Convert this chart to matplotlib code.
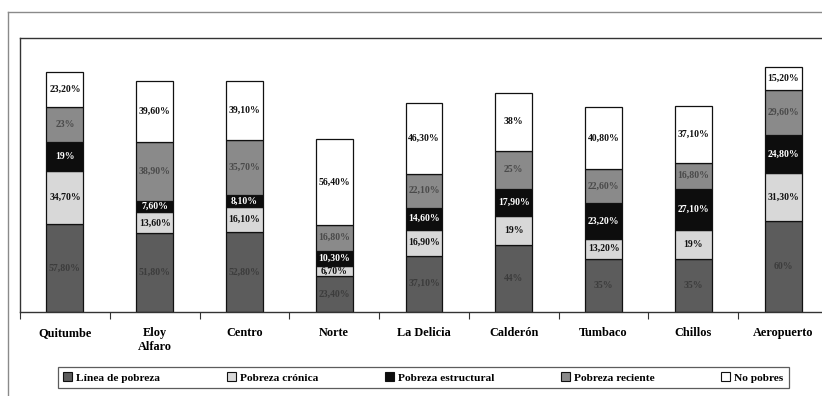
import matplotlib
matplotlib.use("Agg")
import matplotlib.pyplot as plt
import numpy as np
from matplotlib.patches import Patch
from matplotlib.lines import Line2D

# Data: poverty categories (%) by zone
categories = ["Quitumbe", "Eloy\nAlfaro", "Centro", "Norte", "La Delicia",
              "Calderón", "Tumbaco", "Chillos", "Aeropuerto"]
linea_pobreza = [57.8, 51.8, 52.8, 23.4, 37.1, 44, 35, 35, 60]
pobreza_cronica = [34.7, 13.6, 16.1, 6.7, 16.9, 19, 13.2, 19, 31.3]
pobreza_estructural = [19, 7.6, 8.1, 10.3, 14.6, 17.9, 23.2, 27.1, 24.8]
pobreza_reciente = [23, 38.9, 35.7, 16.8, 22.1, 25, 22.6, 16.8, 29.6]
no_pobres = [23.2, 39.6, 39.1, 56.4, 46.3, 38, 40.8, 37.1, 15.2]

series_names = ["Línea de pobreza", "Pobreza crónica", "Pobreza estructural",
                "Pobreza reciente", "No pobres"]
series_values = [linea_pobreza, pobreza_cronica, pobreza_estructural,
                 pobreza_reciente, no_pobres]
fill_colors = ["#5c5c5c", "#d8d8d8", "#0d0d0d", "#8a8a8a", "#ffffff"]
text_colors = ["#3c3c3c", "#111111", "#ffffff", "#4a4a4a", "#111111"]

plt.rcParams["font.family"] = ["Liberation Serif", "DejaVu Serif"]
plt.rcParams["font.weight"] = "bold"

W, H = 822, 396
fig = plt.figure(figsize=(W / 100, H / 100), dpi=100)
fig.patch.set_facecolor("white")

# plot area: left edge at x=20px, axis baseline at y=312px, top at y=38px
ax = fig.add_axes([20 / W, (H - 312) / H, 808 / W, 274 / H])
x = np.arange(len(categories))
bar_w = 0.41


def fmt(v):
    if abs(v - round(v)) < 1e-9:
        return f"{int(round(v))}%"
    return f"{v:.2f}".replace(".", ",") + "%"


bottom = np.zeros(len(categories))
for name, vals, fc, tc in zip(series_names, series_values, fill_colors, text_colors):
    vals = np.array(vals, dtype=float)
    ax.bar(x, vals, bar_w, bottom=bottom, color=fc, edgecolor="#111111",
           linewidth=0.9, label=name)
    for xi, b, v in zip(x, bottom, vals):
        ax.text(xi, b + v / 2, fmt(v), ha="center", va="center",
                fontsize=7, fontweight="bold", color=tc)
    bottom += vals

ax.set_xlim(-0.5, 8.5)
ax.set_ylim(0, 180)
ax.set_yticks([])
ax.set_xticks(x)
ax.set_xticklabels(categories, fontsize=8.8, fontweight="bold")
ax.set_xticks(np.arange(-0.5, 9.0, 1.0), minor=True)
ax.tick_params(axis="x", which="major", length=0, pad=11)
ax.tick_params(axis="x", which="minor", length=5, width=0.8, direction="out",
               color="#333333")
for side in ["left", "top", "bottom"]:
    ax.spines[side].set_color("#333333")
    ax.spines[side].set_linewidth(1.0)
ax.spines["right"].set_visible(False)

# outer frame lines
fig.add_artist(Line2D([8 / W, 8 / W], [0, 1 - 12 / H], transform=fig.transFigure,
                      color="#8a8a8a", linewidth=1.0))
fig.add_artist(Line2D([8 / W, 1], [1 - 12 / H, 1 - 12 / H], transform=fig.transFigure,
                      color="#8a8a8a", linewidth=1.0))

handles = [Patch(facecolor=fc, edgecolor="#111111", linewidth=0.8)
           for fc in fill_colors]
leg = fig.legend(handles, series_names, loc="lower left", ncol=5, mode="expand",
                 bbox_to_anchor=(52 / W, 2 / H, 743 / W, 25 / H),
                 frameon=True, fancybox=False,
                 handlelength=0.75, handleheight=0.75, handletextpad=0.4,
                 borderpad=0.5, prop={"weight": "bold", "size": 8.2})
leg.get_frame().set_edgecolor("#333333")
leg.get_frame().set_linewidth(0.9)

fig.savefig("out.png", dpi=100, facecolor="white")
